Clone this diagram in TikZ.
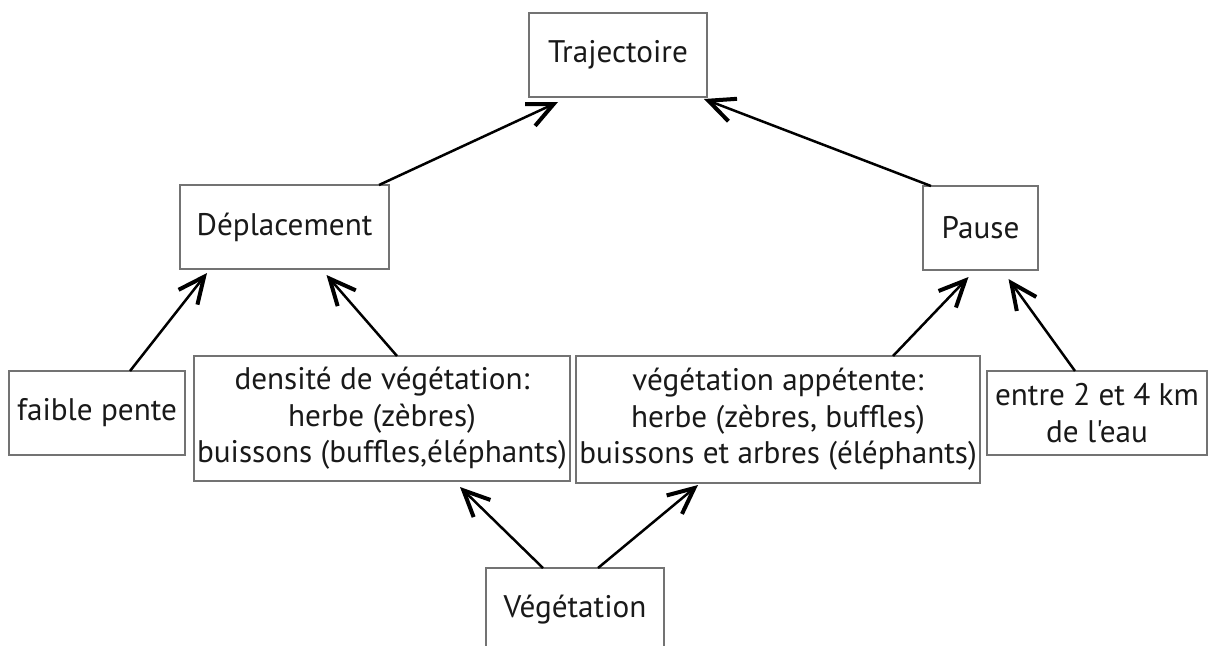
\documentclass[tikz,border=0pt]{standalone}
\usepackage{fontspec}
\setmainfont{PT Sans}[Ligatures=TeXOff]
\usetikzlibrary{arrows.meta,positioning}

\begin{document}
\begin{tikzpicture}[x=0.5pt, y=-0.5pt, >={Straight Barb[length=13pt,width=12pt,line width=2pt]}, line width=1.25pt]
    % Styles des blocs
    \tikzstyle{bloc} = [draw=black!55, line width=1pt, rectangle, fill=white, align=center, inner sep=0pt, outer sep=0pt, font=\fontsize{15.6}{18.3}\selectfont, text=black!90]
    \tikzstyle{fleche} = [->, black]

    \useasboundingbox (0,0) rectangle (1215,645);

    % --- Niveau haut ---
    \node [bloc, minimum width=89pt, minimum height=42pt] at (618,55) (traj) {Trajectoire};

    % --- Etats ---
    \node [bloc, below left=44pt and 70pt of traj, minimum width=104.5pt, minimum height=42pt] (depl) {Déplacement};
    \node [bloc, below right=44.5pt and 108pt of traj, minimum width=57.5pt, minimum height=42pt] (pause) {Pause};

    % --- Facteurs ---
    \node [bloc, below=43.5pt of depl, xshift=48.75pt, minimum width=188pt, minimum height=62.5pt] (dens) {densité de végétation:\\ herbe (zèbres)\\ buissons (buffles,éléphants)};
    \node [bloc, left=4.5pt of dens, yshift=2.75pt, minimum width=88pt, minimum height=42pt] (pente) {faible pente};
    \node [bloc, right=3pt of dens, yshift=-0.5pt, minimum width=202pt, minimum height=63.5pt] (appet) {végétation appétente:\\ herbe (zèbres, buffles)\\ buissons et arbres (éléphants)};
    \node [bloc, right=3.5pt of appet, yshift=3.25pt, minimum width=110pt, minimum height=42pt] (eau) {entre 2 et 4 km\\ de l'eau};

    % --- Source ---
    \node [bloc, below=43.5pt of dens.south east, xshift=2.5pt, minimum width=89pt, minimum height=42pt] (veg) {Végétation};

    % --- Connexions ---
    \draw [fleche] ([xshift=-5pt]depl.north east) -- ([xshift=14.5pt, yshift=-2.5pt]traj.south west);
    \draw [fleche] ([xshift=4pt]pause.north west) -- ([xshift=-1.5pt, yshift=-1pt]traj.south east);

    \draw [fleche] ([xshift=16.5pt]pente.north) -- ([xshift=13.5pt, yshift=-2pt]depl.south west);
    \draw [fleche] ([xshift=7.5pt]dens.north) -- ([xshift=21pt, yshift=-3pt]depl.south);
    \draw [fleche] ([xshift=-43.5pt]appet.north east) -- ([xshift=-6pt, yshift=-3.5pt]pause.south);
    \draw [fleche] ([xshift=-11pt]eau.north) -- ([xshift=14pt, yshift=-4.5pt]pause.south);

    \draw [fleche] ([xshift=-16pt]veg.north) -- ([xshift=39pt, yshift=-3pt]dens.south);
    \draw [fleche] ([xshift=11.5pt]veg.north) -- ([xshift=-40pt, yshift=-1pt]appet.south);

\end{tikzpicture}
\end{document}
